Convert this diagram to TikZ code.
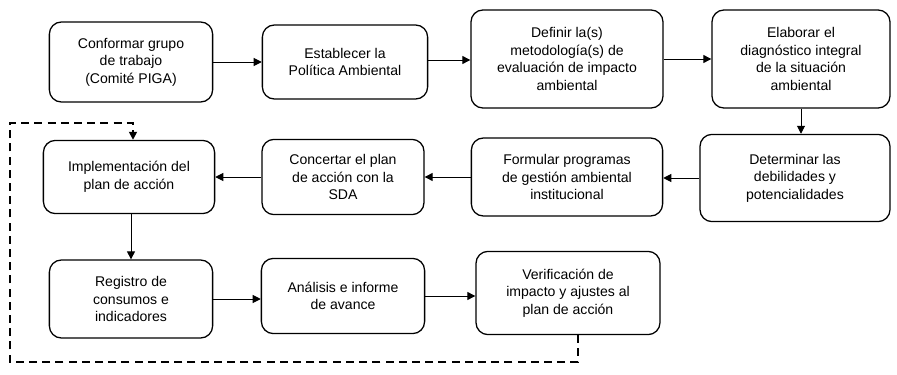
\documentclass[tikz,border=0pt]{standalone}
\usepackage{fontspec}
\setmainfont{Liberation Sans}
\usetikzlibrary{arrows.meta,calc}
\tikzset{
  etapa/.style={
      draw,
      line width=0.9pt,
      rounded corners=0.3cm,
      align=center,
      inner sep=2pt,
      font=\fontsize{10}{12.5}\selectfont
  },
  flujo/.style={
      line width=0.7pt,
      -{Triangle[length=2mm,width=2mm]}
  },
  retorno/.style={
      flujo,
      line width=1.2pt,
      dash pattern=on 2mm off 1.3mm
  }
}
\begin{document}
\begin{tikzpicture}[x=0.025cm,y=-0.025cm]
	\useasboundingbox (0,0) rectangle (897,375);
	\node[etapa,minimum width=4.08cm,minimum height=2cm] (conformar) at (131,62)
		{Conformar grupo\\de trabajo\\(Comité PIGA)};
	\node[etapa,minimum width=4.13cm,minimum height=1.85cm] (politica) at (345,62)
		{Establecer la\\Política Ambiental};
	\node[etapa,minimum width=4.8cm,minimum height=2.45cm] (metodologia) at (567,59)
		{Definir la(s)\\metodología(s) de\\evaluación de impacto\\ambiental};
	\node[etapa,minimum width=4.45cm,minimum height=2.45cm] (diagnostico) at (801,59)
		{Elaborar el\\diagnóstico integral\\de la situación\\ambiental};
	\node[etapa,minimum width=4.75cm,minimum height=2.18cm] (debilidades) at (795,178)
		{Determinar las\\debilidades y\\potencialidades};
	\node[etapa,minimum width=4.78cm,minimum height=1.95cm] (programas) at (567,177)
		{Formular programas\\de gestión ambiental\\institucional};
	\node[etapa,minimum width=4.05cm,minimum height=1.88cm] (concertar) at (343,177)
		{Concertar el plan\\de acción con la\\SDA};
	\node[etapa,minimum width=4.28cm,minimum height=1.83cm] (implementacion) at (129,177)
		{Implementación del\\plan de acción};
	\node[etapa,minimum width=4.08cm,minimum height=1.95cm] (registro) at (131,299)
		{Registro de\\consumos e\\indicadores};
	\node[etapa,minimum width=4.08cm,minimum height=1.88cm] (analisis) at (343,296)
		{Análisis e informe\\de avance};
	\node[etapa,minimum width=4.6cm,minimum height=2.08cm] (verificacion) at (568,293)
		{Verificación de\\impacto y ajustes al\\plan de acción};
	\coordinate (lazoA) at (10,362);
	\coordinate (lazoB) at (10,123);

	\draw[flujo] (conformar.east) -- (conformar.east -| politica.west);
	\draw[flujo] ([yshift=0.05cm]politica.east) -- ([yshift=0.05cm]politica.east -| metodologia.west);
	\draw[flujo] (metodologia.east) -- (metodologia.east -| diagnostico.west);
	\draw[flujo] (diagnostico.south) -- (diagnostico.south |- debilidades.north);
	\draw[flujo] (debilidades.west) -- (debilidades.west -| programas.east);
	\draw[flujo] (programas.west) -- (programas.west -| concertar.east);
	\draw[flujo] (concertar.west) -- (concertar.west -| implementacion.east);
	\draw[flujo] (registro.north |- implementacion.south) -- (registro.north);
	\draw[flujo] (registro.east) -- (registro.east -| analisis.west);
	\draw[flujo] (analisis.east) -- (analisis.east -| verificacion.west);
	\draw[retorno] ($(verificacion.south)+(10,0)$) |- (lazoA) -- (lazoB)
		-| ($(implementacion.north)+(4,0)$);
\end{tikzpicture}
\end{document}
